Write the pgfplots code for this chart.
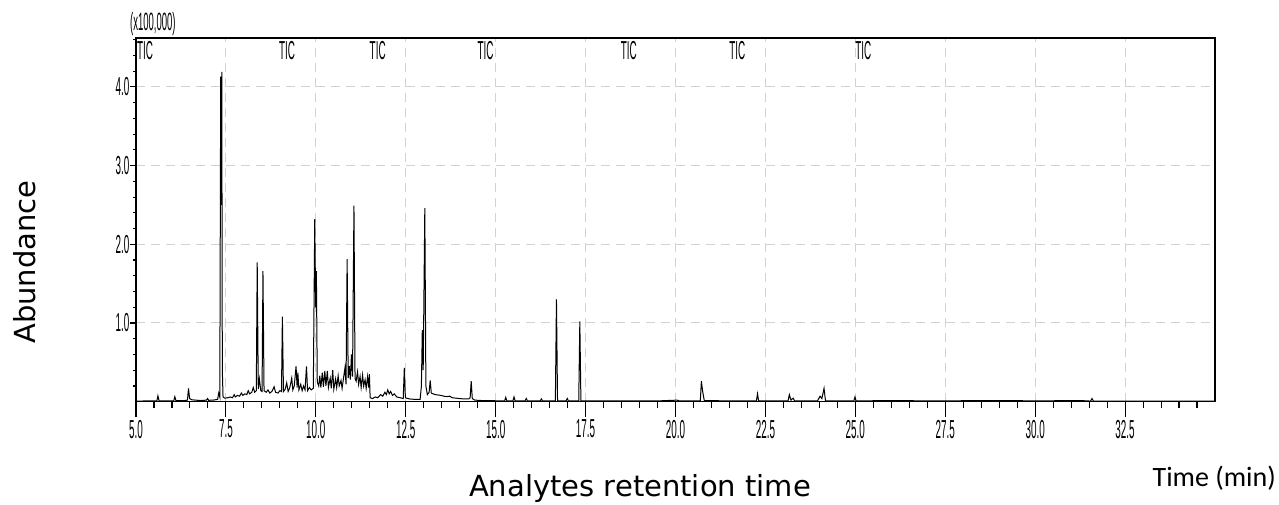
\documentclass[border=0pt]{standalone}
\usepackage{fontspec}
\setmainfont{Liberation Sans}
\newfontfamily\narrowfont[FakeStretch=0.38]{Liberation Sans}
\newfontfamily\dejavu{DejaVu Sans}
\newfontfamily\carlito{Carlito}
\usepackage{pgfplots}
\pgfplotsset{compat=1.18}
\pgfplotstableread{
x y
5.00 0.008
5.40 0.010
5.58 0.012
5.61 0.075
5.64 0.012
5.90 0.010
6.05 0.012
6.08 0.064
6.11 0.015
6.30 0.012
6.43 0.020
6.46 0.17
6.49 0.040
6.55 0.025
6.65 0.020
6.80 0.015
6.96 0.020
6.99 0.040
7.02 0.018
7.15 0.020
7.27 0.030
7.30 0.11
7.33 0.06
7.355 4.13
7.37 2.50
7.385 4.19
7.40 0.40
7.42 0.06
7.47 0.045
7.55 0.05
7.62 0.06
7.68 0.05
7.73 0.09
7.76 0.06
7.82 0.08
7.88 0.07
7.93 0.11
7.97 0.08
8.03 0.10
8.08 0.09
8.12 0.14
8.16 0.10
8.22 0.12
8.26 0.18
8.30 0.12
8.345 0.14
8.37 1.77
8.40 0.16
8.43 0.29
8.47 0.14
8.505 0.13
8.53 1.66
8.56 0.14
8.62 0.12
8.67 0.15
8.72 0.11
8.78 0.13
8.84 0.19
8.88 0.12
8.95 0.11
9.00 0.14
9.045 0.13
9.07 1.08
9.10 0.13
9.15 0.16
9.19 0.24
9.23 0.13
9.27 0.17
9.30 0.23
9.33 0.30
9.36 0.15
9.40 0.20
9.45 0.45
9.48 0.18
9.50 0.37
9.53 0.15
9.58 0.22
9.62 0.14
9.66 0.20
9.70 0.15
9.74 0.45
9.77 0.14
9.82 0.18
9.87 0.15
9.93 0.17
9.97 2.32
9.995 1.20
10.015 1.66
10.04 0.25
10.08 0.20
10.11 0.33
10.14 0.18
10.18 0.37
10.21 0.19
10.25 0.39
10.28 0.20
10.32 0.39
10.35 0.18
10.40 0.30
10.43 0.17
10.47 0.40
10.50 0.16
10.55 0.29
10.58 0.18
10.62 0.33
10.65 0.20
10.70 0.27
10.73 0.17
10.77 0.30
10.81 0.43
10.84 0.22
10.87 1.81
10.90 0.30
10.93 0.45
10.96 0.28
10.99 0.60
11.02 0.32
11.06 2.49
11.09 0.30
11.12 0.26
11.16 0.38
11.19 0.22
11.23 0.32
11.26 0.18
11.30 0.34
11.33 0.20
11.37 0.28
11.40 0.17
11.44 0.32
11.47 0.18
11.49 0.35
11.51 0.05
11.58 0.04
11.65 0.06
11.72 0.05
11.80 0.09
11.86 0.07
11.92 0.12
11.96 0.09
12.00 0.15
12.04 0.10
12.08 0.13
12.13 0.08
12.18 0.10
12.25 0.06
12.35 0.05
12.43 0.04
12.46 0.43
12.49 0.05
12.60 0.035
12.75 0.03
12.90 0.03
12.935 0.20
12.96 0.91
12.985 0.40
13.03 2.46
13.06 0.20
13.10 0.09
13.15 0.12
13.18 0.27
13.21 0.11
13.26 0.10
13.32 0.09
13.40 0.085
13.48 0.08
13.56 0.07
13.64 0.065
13.72 0.07
13.80 0.05
13.90 0.045
14.00 0.04
14.12 0.035
14.25 0.035
14.29 0.05
14.32 0.26
14.35 0.04
14.42 0.02
14.60 0.015
15.00 0.012
15.25 0.012
15.28 0.055
15.31 0.012
15.48 0.012
15.51 0.06
15.54 0.012
15.82 0.012
15.85 0.04
15.88 0.012
16.24 0.012
16.27 0.035
16.30 0.012
16.66 0.012
16.69 1.30
16.72 0.012
16.96 0.012
16.99 0.04
17.02 0.012
17.31 0.012
17.34 1.02
17.37 0.012
17.70 0.01
18.50 0.01
19.50 0.01
20.05 0.02
20.10 0.01
20.69 0.012
20.72 0.26
20.755 0.13
20.80 0.015
21.50 0.01
22.25 0.012
22.28 0.10
22.31 0.012
23.13 0.012
23.165 0.09
23.21 0.02
23.27 0.045
23.31 0.012
23.95 0.012
24.02 0.07
24.07 0.04
24.13 0.17
24.17 0.012
24.96 0.012
24.99 0.06
25.02 0.01
26.10 0.015
27.00 0.01
29.20 0.015
30.00 0.01
31.25 0.015
31.54 0.008
31.58 0.04
31.62 0.008
35.00 0.008
}\tic
\begin{document}
\begin{tikzpicture}
\begin{axis}[name=ax, scale only axis, width=1079pt, height=363.7pt,
  xmin=5, xmax=35, ymin=0, ymax=4.621,
  clip=false,
  axis line style={line width=1.2pt, black},
  xtick={5,7.5,...,32.5}, minor xtick={5.5,6,...,34.5},
  xtick pos=left, tick align=outside,
  major tick length=15pt, minor tick length=6.5pt,
  x tick style={line width=1.1pt, black},
  /pgf/number format/assume math mode=true,
  xticklabel={\pgfmathprintnumber[fixed,fixed zerofill,precision=1]{\tick}},
  xticklabel style={font=\narrowfont\fontsize{26}{27}\selectfont, inner sep=3pt},
  ytick={1,2,3,4}, yticklabels={}, y tick style={draw=none},
  xmajorgrids, ymajorgrids,
  major grid style={gray!35, dash pattern=on 9pt off 6pt, line width=1pt},
]
\addplot[black, line width=1pt, sharp plot] table[x=x, y=y] {\tic};
\foreach \p in {9.2,11.72,14.72,18.7,21.72,25.22}{
  \edef\tmp{\noexpand\node[anchor=north, inner sep=0pt, font=\noexpand\narrowfont\noexpand\fontsize{26}{27}\noexpand\selectfont] at (axis cs:\p,4.621) [yshift=-3pt] {TIC};}
  \tmp
}
\node[anchor=north west, inner sep=0pt, font=\narrowfont\fontsize{26}{27}\selectfont] at (axis cs:5,4.621) [yshift=-3pt, xshift=1pt] {TIC};
\end{axis}
\begin{axis}[scale only axis, width=1079pt, height=363.7pt,
  xmin=5, xmax=35, ymin=0, ymax=4.621,
  hide x axis, axis y line*=left,
  axis line style={line width=1.2pt, black},
  ytick={1,2,3,4}, minor ytick={0.2,0.4,...,4.6},
  tick align=outside, major tick length=5.5pt, minor tick length=3pt,
  y tick style={line width=1.1pt, black},
  /pgf/number format/assume math mode=true,
  yticklabel={\pgfmathprintnumber[fixed,fixed zerofill,precision=1]{\tick}},
  yticklabel style={font=\narrowfont\fontsize{26}{27}\selectfont, inner sep=1pt},
]
\addplot[draw=none] coordinates {(5,0)};
\end{axis}
\node[anchor=south west, inner sep=0pt, font=\narrowfont\fontsize{25}{26}\selectfont] at ([shift={(-6pt,2pt)}]ax.north west) {(x100,000)};
\node[rotate=90, font=\dejavu\fontsize{29}{30}\selectfont] at ([shift={(-111pt,139.7pt)}]ax.south west) {Abundance};
\node[anchor=base, inner sep=0pt, font=\dejavu\fontsize{29}{30}\selectfont] at ([shift={(504pt,-94.5pt)}]ax.south west) {Analytes retention time};
\node[anchor=base east, inner sep=0pt, font=\carlito\fontsize{28}{30}\selectfont] at ([shift={(1140pt,-84.3pt)}]ax.south west) {Time (min)};
\pgfresetboundingbox
\path[use as bounding box] ([shift={(-136pt,-102.3pt)}]ax.south west) rectangle ([shift={(1143pt,401.7pt)}]ax.south west);
\end{tikzpicture}
\end{document}
